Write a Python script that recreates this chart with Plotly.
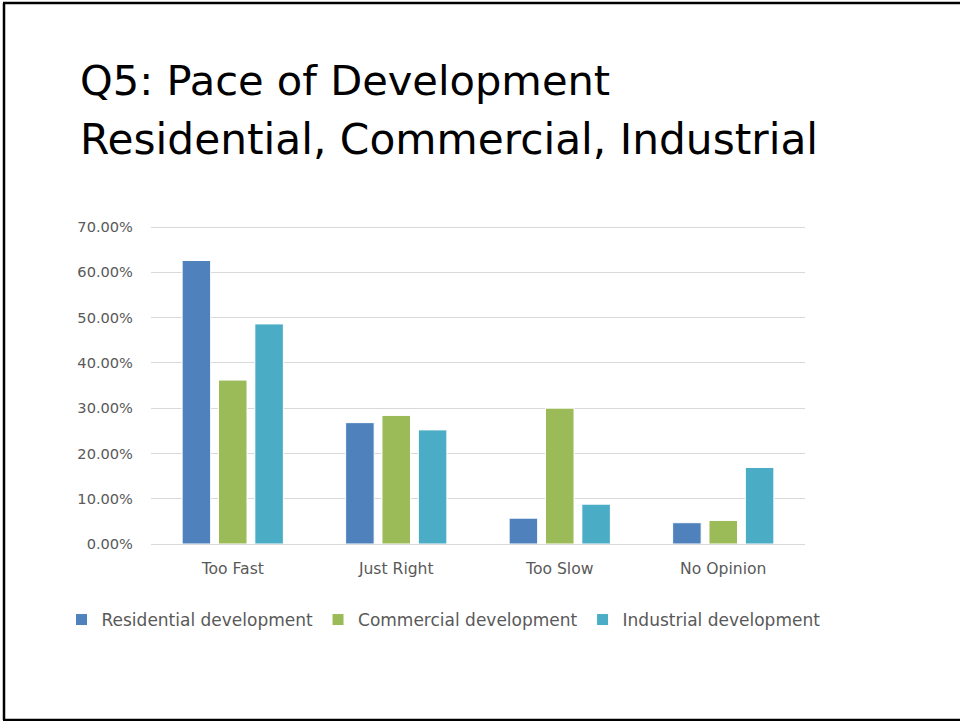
import plotly.graph_objects as go

W, H = 960, 721

categories = ["Too Fast", "Just Right", "Too Slow", "No Opinion"]
residential = [0.626, 0.268, 0.057, 0.047]
commercial = [0.362, 0.284, 0.300, 0.052]
industrial = [0.486, 0.252, 0.088, 0.169]
series_names = ["Residential development", "Commercial development", "Industrial development"]
y_ticks = [0.0, 0.1, 0.2, 0.3, 0.4, 0.5, 0.6, 0.7]
y_tick_labels = ["0.00%", "10.00%", "20.00%", "30.00%", "40.00%", "50.00%", "60.00%", "70.00%"]
title_line1 = "Q5: Pace of Development"
title_line2 = "Residential, Commercial, Industrial"

colors = ["#4F81BD", "#9BBB59", "#4BACC6"]
FONT = "DejaVu Sans"
Y_MAX = 0.72  # a bit above 70% so the top gridline is drawn

def px_x(x):
    return x / W

def px_y(y):
    return 1 - y / H

fig = go.Figure()
for name, vals, col in zip(series_names, [residential, commercial, industrial], colors):
    fig.add_trace(go.Bar(
        x=categories, y=vals, name=name,
        marker=dict(color=col, line=dict(color="white", width=1)),
    ))

top_px = 544 - (544 - 227) * Y_MAX / 0.7

fig.update_layout(
    width=W, height=H,
    margin=dict(l=0, r=0, t=0, b=0, pad=0, autoexpand=False),
    paper_bgcolor="white", plot_bgcolor="white",
    barmode="group", bargap=0.333, bargroupgap=0.215,
    font=dict(family=FONT, color="#595959", size=14),
    xaxis=dict(domain=[px_x(151), px_x(805)], showgrid=False, showline=False,
               automargin=False, ticks="", ticklabelstandoff=13,
               tickfont=dict(size=15.6, color="#595959"), fixedrange=True),
    yaxis=dict(domain=[px_y(544), px_y(top_px)], range=[0, Y_MAX],
               tickvals=y_ticks, ticktext=y_tick_labels, automargin=False,
               showgrid=True, gridcolor="#D9D9D9", gridwidth=1,
               zeroline=True, zerolinecolor="#D9D9D9", zerolinewidth=1,
               showline=False, ticks="", ticklabelstandoff=17,
               tickfont=dict(size=14.6, color="#595959"), fixedrange=True),
    legend=dict(orientation="h", x=px_x(443.5), xanchor="center", y=px_y(620), yanchor="middle",
                font=dict(size=17, color="#595959"), traceorder="normal",
                itemwidth=30, bgcolor="rgba(0,0,0,0)"),
    showlegend=True,
)

fig.add_annotation(text=title_line1, xref="paper", yref="paper", x=px_x(78), y=px_y(81),
                   xanchor="left", yanchor="middle", showarrow=False,
                   font=dict(family=FONT, size=41.6, color="black"))
fig.add_annotation(text=title_line2, xref="paper", yref="paper", x=px_x(78), y=px_y(139.5),
                   xanchor="left", yanchor="middle", showarrow=False,
                   font=dict(family=FONT, size=42.3, color="black"))

# slide border
fig.add_shape(type="line", xref="paper", yref="paper", x0=px_x(4), x1=px_x(4), y0=px_y(3), y1=px_y(720),
              line=dict(color="black", width=2.5))
fig.add_shape(type="line", xref="paper", yref="paper", x0=px_x(3), x1=1, y0=px_y(3), y1=px_y(3),
              line=dict(color="black", width=2.5))
fig.add_shape(type="line", xref="paper", yref="paper", x0=px_x(3), x1=1, y0=px_y(720), y1=px_y(720),
              line=dict(color="black", width=2.5))

fig.write_html("out.html")
